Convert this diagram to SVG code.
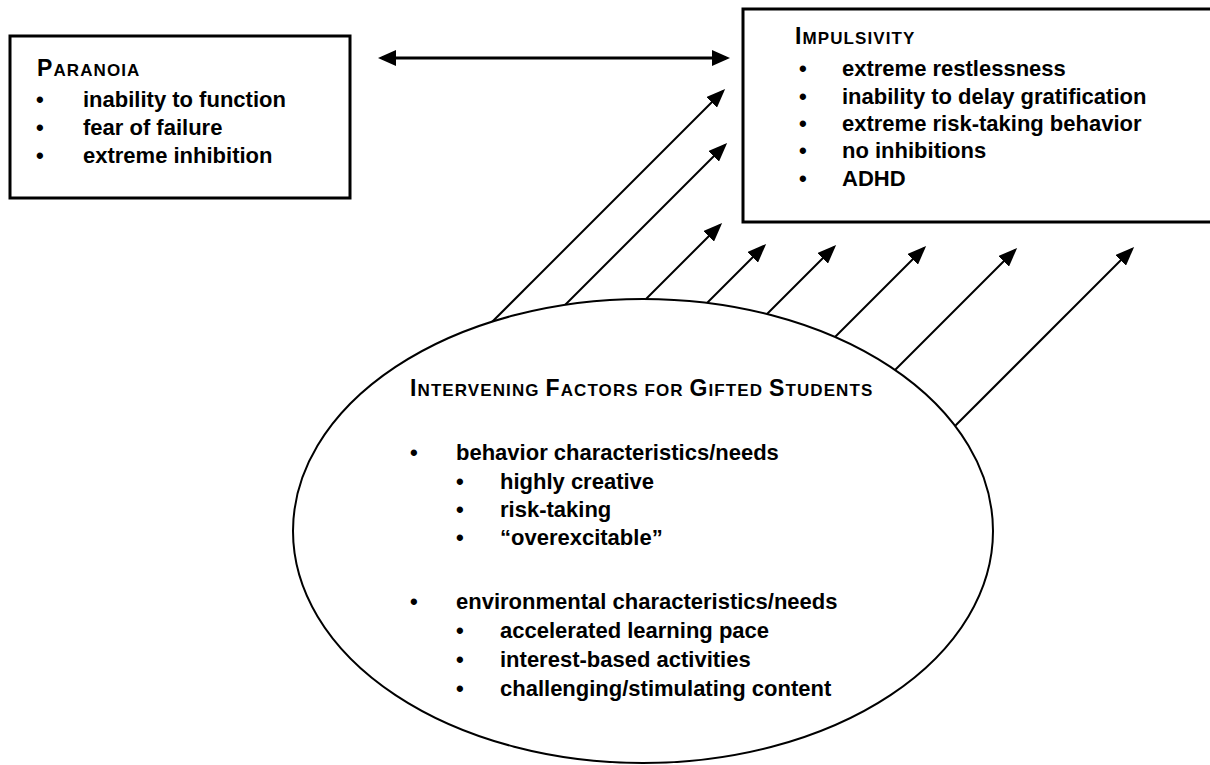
<svg xmlns="http://www.w3.org/2000/svg" width="1210" height="765" viewBox="0 0 1210 765">
<defs>
<style>
.box{fill:#fff;stroke:#000;stroke-width:3}
.ell{fill:#fff;stroke:#000;stroke-width:2}
.t{font-family:"Liberation Sans",Arial,sans-serif;font-weight:bold;font-size:22px;fill:#000}
.ttl{font-family:"Liberation Sans",Arial,sans-serif;font-weight:bold;font-size:17px;fill:#000;letter-spacing:1.1px}
.big{font-size:23px}
.ln{stroke:#000;stroke-width:2;fill:none;marker-end:url(#ah)}
.dbl{stroke:#000;stroke-width:3;fill:none;marker-end:url(#ah2);marker-start:url(#ah2)}
</style>
<marker id="ah" markerUnits="userSpaceOnUse" markerWidth="19" markerHeight="15" refX="16" refY="7.5" orient="auto">
<path d="M0,0 L19,7.5 L0,15 z" fill="#000"/>
</marker>
<marker id="ah2" markerUnits="userSpaceOnUse" markerWidth="18" markerHeight="16" refX="14" refY="8" orient="auto-start-reverse">
<path d="M0,0 L18,8 L0,16 z" fill="#000"/>
</marker>
</defs>
<rect width="1210" height="765" fill="#fff"/>

<g id="paranoia">
<rect class="box" x="10" y="36" width="340" height="162"/>
<text class="ttl" x="37" y="76"><tspan class="big">P</tspan>ARANOIA</text>
<text class="t" x="36" y="107">•</text><text class="t" x="83" y="107">inability to function</text>
<text class="t" x="36" y="135">•</text><text class="t" x="83" y="135">fear of failure</text>
<text class="t" x="36" y="163">•</text><text class="t" x="83" y="163">extreme inhibition</text>
</g>

<g id="impulsivity">
<rect class="box" x="743" y="9" width="472" height="213"/>
<text class="ttl" x="795" y="44"><tspan class="big">I</tspan>MPULSIVITY</text>
<text class="t" x="799" y="76">•</text><text class="t" x="842" y="76">extreme restlessness</text>
<text class="t" x="799" y="104">•</text><text class="t" x="842" y="104">inability to delay gratification</text>
<text class="t" x="799" y="131">•</text><text class="t" x="842" y="131">extreme risk-taking behavior</text>
<text class="t" x="799" y="158">•</text><text class="t" x="842" y="158">no inhibitions</text>
<text class="t" x="799" y="186">•</text><text class="t" x="842" y="186">ADHD</text>
</g>

<g id="connectors">
<line class="dbl" x1="382" y1="58" x2="726" y2="58"/>
<line class="ln" x1="492" y1="322" x2="723" y2="91"/>
<line class="ln" x1="565" y1="305" x2="725" y2="145"/>
<line class="ln" x1="646" y1="299" x2="720" y2="225"/>
<line class="ln" x1="707" y1="303" x2="764" y2="246"/>
<line class="ln" x1="767" y1="314" x2="834" y2="247"/>
<line class="ln" x1="835" y1="337" x2="924" y2="248"/>
<line class="ln" x1="895" y1="370" x2="1015" y2="250"/>
<line class="ln" x1="955" y1="426" x2="1132" y2="249"/>
</g>

<g id="intervening">
<ellipse class="ell" cx="643" cy="531" rx="350" ry="232"/>
<text class="ttl" x="410" y="396"><tspan class="big">I</tspan>NTERVENING <tspan class="big">F</tspan>ACTORS FOR <tspan class="big">G</tspan>IFTED <tspan class="big">S</tspan>TUDENTS</text>
<text class="t" x="410" y="460">•</text><text class="t" x="456" y="460">behavior characteristics/needs</text>
<text class="t" x="456" y="489">•</text><text class="t" x="500" y="489">highly creative</text>
<text class="t" x="456" y="517">•</text><text class="t" x="500" y="517">risk-taking</text>
<text class="t" x="456" y="545">•</text><text class="t" x="500" y="545">“overexcitable”</text>
<text class="t" x="410" y="609">•</text><text class="t" x="456" y="609">environmental characteristics/needs</text>
<text class="t" x="456" y="638">•</text><text class="t" x="500" y="638">accelerated learning pace</text>
<text class="t" x="456" y="667">•</text><text class="t" x="500" y="667">interest-based activities</text>
<text class="t" x="456" y="696">•</text><text class="t" x="500" y="696">challenging/stimulating content</text>
</g>
</svg>
